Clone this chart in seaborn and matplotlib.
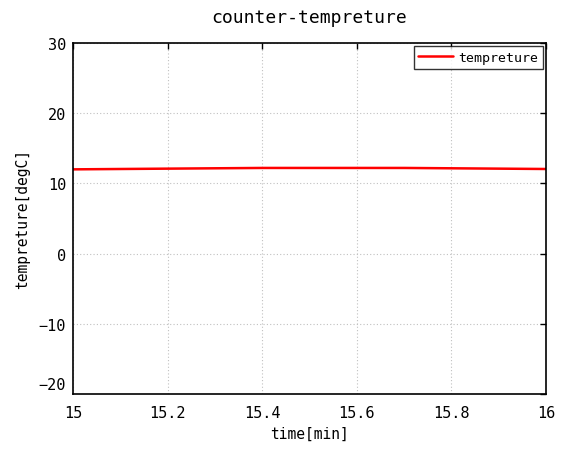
import matplotlib
matplotlib.use("Agg")
import matplotlib.pyplot as plt
import matplotlib.transforms as mtransforms
import seaborn as sns
import pandas as pd

time_min = [15.0, 15.1, 15.2, 15.3, 15.4, 15.5, 15.6, 15.7, 15.8, 15.9, 16.0]
temperature = [12.0, 12.05, 12.1, 12.15, 12.2, 12.2, 12.2, 12.2, 12.15, 12.1, 12.05]
x_ticks = [15, 15.2, 15.4, 15.6, 15.8, 16]
x_tick_labels = ["15", "15.2", "15.4", "15.6", "15.8", "16"]
y_ticks = [-20, -10, 0, 10, 20, 30]

sns.set_style("white")
plt.rcParams['font.family'] = ['DejaVu Sans Mono']
plt.rcParams['text.color'] = 'black'
plt.rcParams['axes.labelcolor'] = 'black'

df = pd.DataFrame({"time": time_min, "temp": temperature})

fig = plt.figure(figsize=(5.62, 4.52), dpi=100)
ax = fig.add_axes([0.13, 0.1261, 0.8415, 0.7766])
sns.lineplot(data=df, x="time", y="temp", ax=ax, color="#ff0000", linewidth=1.8, label="tempreture")

ax.set_xlim(15, 16)
ax.set_ylim(-20, 30)
ax.set_xticks(x_ticks)
ax.set_xticklabels(x_tick_labels)
ax.set_yticks(y_ticks)
ax.grid(True, linestyle=(0, (1, 2)), color="#c0c0c0", linewidth=0.8)
ax.tick_params(direction="in", top=True, right=True, length=4, width=1, labelsize=11, colors="black")
ax.tick_params(axis="x", pad=8)
ax.tick_params(axis="y", pad=5)
for s in ax.spines.values():
    s.set_visible(True)
    s.set_color("black")
    s.set_linewidth(1.2)

# raise the bottom y tick label (as in the reference)
offset = mtransforms.ScaledTranslation(0, 8 / 72, fig.dpi_scale_trans)
ylabels = ax.get_yticklabels()
ylabels[0].set_transform(ylabels[0].get_transform() + offset)

ax.set_xlabel("time[min]", fontsize=10.5, labelpad=4, color="black")
ax.set_ylabel("tempreture[degC]", fontsize=10.5, labelpad=6, color="black")
ax.set_title("counter-tempreture", fontsize=13, pad=15, color="black")

leg = ax.legend(loc="upper right", fontsize=9.5, frameon=True, fancybox=False,
                edgecolor="black", handlelength=2.6, borderpad=0.35, handletextpad=0.4,
                borderaxespad=0.25)
leg.get_frame().set_linewidth(1.0)

fig.savefig("out.png", dpi=100)
